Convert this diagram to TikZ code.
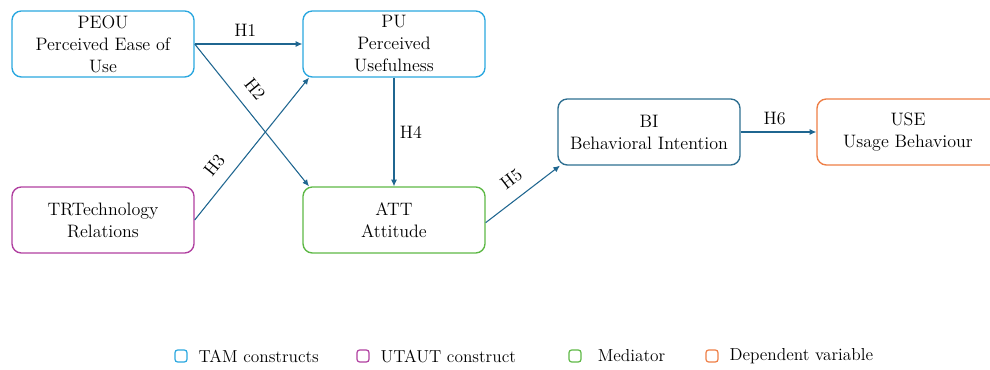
\documentclass[tikz,border=0pt]{standalone}
\usetikzlibrary{arrows.meta,positioning}

\definecolor{tamblue}{HTML}{2AA7DF}
\definecolor{utpurple}{HTML}{B03FA0}
\definecolor{medgreen}{HTML}{5DB845}
\definecolor{deporange}{HTML}{EE7E45}
\definecolor{bidark}{HTML}{2D6E90}
\definecolor{arrblue}{HTML}{1F6690}

\tikzset{
  construct/.style={draw, rounded corners=7pt, line width=1pt, minimum width=136.5pt,
    minimum height=49.5pt, align=center, inner sep=1pt, font=\fontsize{13.5}{16.5}\selectfont},
  hyp/.style={-{Latex[length=5pt,width=4.5pt]}, draw=arrblue, line width=0.8pt},
  hlabel/.style={font=\fontsize{13.5}{16}\selectfont, inner sep=2pt},
  legbox/.style={draw, rounded corners=2pt, line width=0.9pt, minimum size=9pt, inner sep=0pt},
  legtext/.style={font=\fontsize{13}{16}\selectfont, anchor=west, inner sep=0pt},
}

\begin{document}
\begin{tikzpicture}[x=0.75pt,y=-0.75pt]
\useasboundingbox (0,0) rectangle (990,370);

% constructs
\node[construct, draw=tamblue] (peou) at (103,44) {PEOU\\Perceived Ease of\\Use};
\node[construct, draw=tamblue] (pu) at (394,44) {PU\\Perceived\\Usefulness};
\node[construct, draw=utpurple] (tr) at (103,220) {TRTechnology\\Relations};
\node[construct, draw=medgreen] (att) at (394,220) {ATT\\Attitude};
\node[construct, draw=bidark] (bi) at (649,132) {BI\\Behavioral Intention};
\node[construct, draw=deporange] (use) at (908,132) {USE\\Usage Behaviour};

% hypotheses
\draw[hyp] (peou.east) -- node[hlabel, above=3pt, pos=0.47] {H1} (pu.west);
\draw[hyp] (peou.east) -- node[hlabel, sloped, above=7pt, pos=0.4] {H2} ([xshift=5pt]att.north west);
\draw[hyp] (tr.east) -- node[hlabel, sloped, above=7pt, pos=0.3] {H3} ([xshift=5pt]pu.south west);
\draw[hyp] (pu.south) -- node[hlabel, right=2pt, pos=0.5] {H4} (att.north);
\draw[hyp] ([yshift=-2pt]att.east) -- node[hlabel, sloped, above=7pt, pos=0.5] {H5} ([xshift=2pt]bi.south west);
\draw[hyp] (bi.east) -- node[hlabel, above=3pt, pos=0.45] {H6} (use.west);

% legend
\node[legbox, draw=tamblue] (legtam) at (181,356) {};
\node[legtext, right=8pt of legtam] (legtamt) {TAM constructs};
\node[legbox, draw=utpurple] (legut) at (363,356) {};
\node[legtext, right=8pt of legut] (legutt) {UTAUT construct};
\node[legbox, draw=medgreen] (legmed) at (575,356) {};
\node[legtext, right=12pt of legmed] (legmedt) {Mediator};
\node[legbox, draw=deporange] (legdep) at (712,356) {};
\node[legtext, right=8pt of legdep] (legdept) {Dependent variable};
\end{tikzpicture}
\end{document}
